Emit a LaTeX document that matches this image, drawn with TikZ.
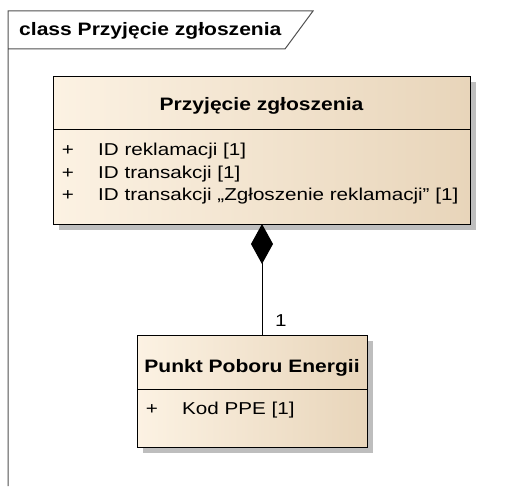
\documentclass[tikz,border=0pt]{standalone}
\usepackage{fontspec}
\setmainfont{Liberation Sans}[FakeStretch=1.2, BoldFeatures={FakeStretch=1.17}]
\usetikzlibrary{arrows.meta,shadows}
\definecolor{boxleft}{HTML}{FCF2E3}
\definecolor{boxright}{HTML}{E8D5BA}
\definecolor{shadowgray}{HTML}{BEBEBE}
\definecolor{framegray}{HTML}{505050}
\tikzset{
  umlbox/.style={draw=black, line width=1.3pt, anchor=north west, inner sep=0pt,
    shading=axis, left color=boxleft, right color=boxright, shading angle=90,
    drop shadow={shadow xshift=5.5pt, shadow yshift=-5.5pt, fill=shadowgray, opacity=1}},
  sep/.style={draw=black, line width=1pt},
  txt/.style={inner sep=0pt, font=\fontsize{17.2}{20}\selectfont},
  btxt/.style={inner sep=0pt, font=\fontsize{18}{21}\selectfont\bfseries},
  frameline/.style={draw=framegray, line width=1pt},
  conn/.style={draw=black, line width=1pt}
}
\begin{document}
\begin{tikzpicture}[x=1pt,y=-1pt]
\useasboundingbox (0,0) rectangle (510,486);
% frame
\coordinate (fTL) at (8,11);
\coordinate (fTR) at (313,11);
\coordinate (fTB) at (285,49);
\coordinate (fBL) at (8,49);
\coordinate (fBot) at (8,486);
\draw[frameline] (fBot) -- (fTL) -- (fTR) -- (fTB) -- (fBL);
\node[btxt, anchor=base west] (title) at (19,36) {class Przyjęcie zgłoszenia};
% class 1
\node[umlbox, minimum width=417pt, minimum height=148pt] (c1) at (53,76) {};
\draw[sep] (53,130) -- (470,130);
\node[btxt, anchor=base] (c1name) at (261.5,111) {Przyjęcie zgłoszenia};
\node[txt, anchor=base] (p1) at (68,156) {+};
\node[txt, anchor=base] (p2) at (68,178.5) {+};
\node[txt, anchor=base] (p3) at (68,200) {+};
\node[txt, anchor=base west] (a1) at (98,156) {ID reklamacji [1]};
\node[txt, anchor=base west] (a2) at (98,178.5) {ID transakcji [1]};
\node[txt, anchor=base west] (a3) at (98,200) {ID transakcji „Zgłoszenie reklamacji” [1]};
% class 2
\node[umlbox, minimum width=230pt, minimum height=112pt] (c2) at (137,335) {};
\draw[sep] (137,389) -- (367,389);
\node[btxt, anchor=base] (c2name) at (252,372) {Punkt Poboru Energii};
\node[txt, anchor=base] (p4) at (152,414) {+};
\node[txt, anchor=base west] (a4) at (182,414) {Kod PPE [1]};
% composition
\coordinate (s1) at (262,224);
\coordinate (s2) at (262,335);
\draw[conn, {Diamond[length=40pt,width=22pt]}-] (s1) -- (s2);
\node[txt, anchor=base west] (mult) at (275,326) {1};
\end{tikzpicture}
\end{document}
